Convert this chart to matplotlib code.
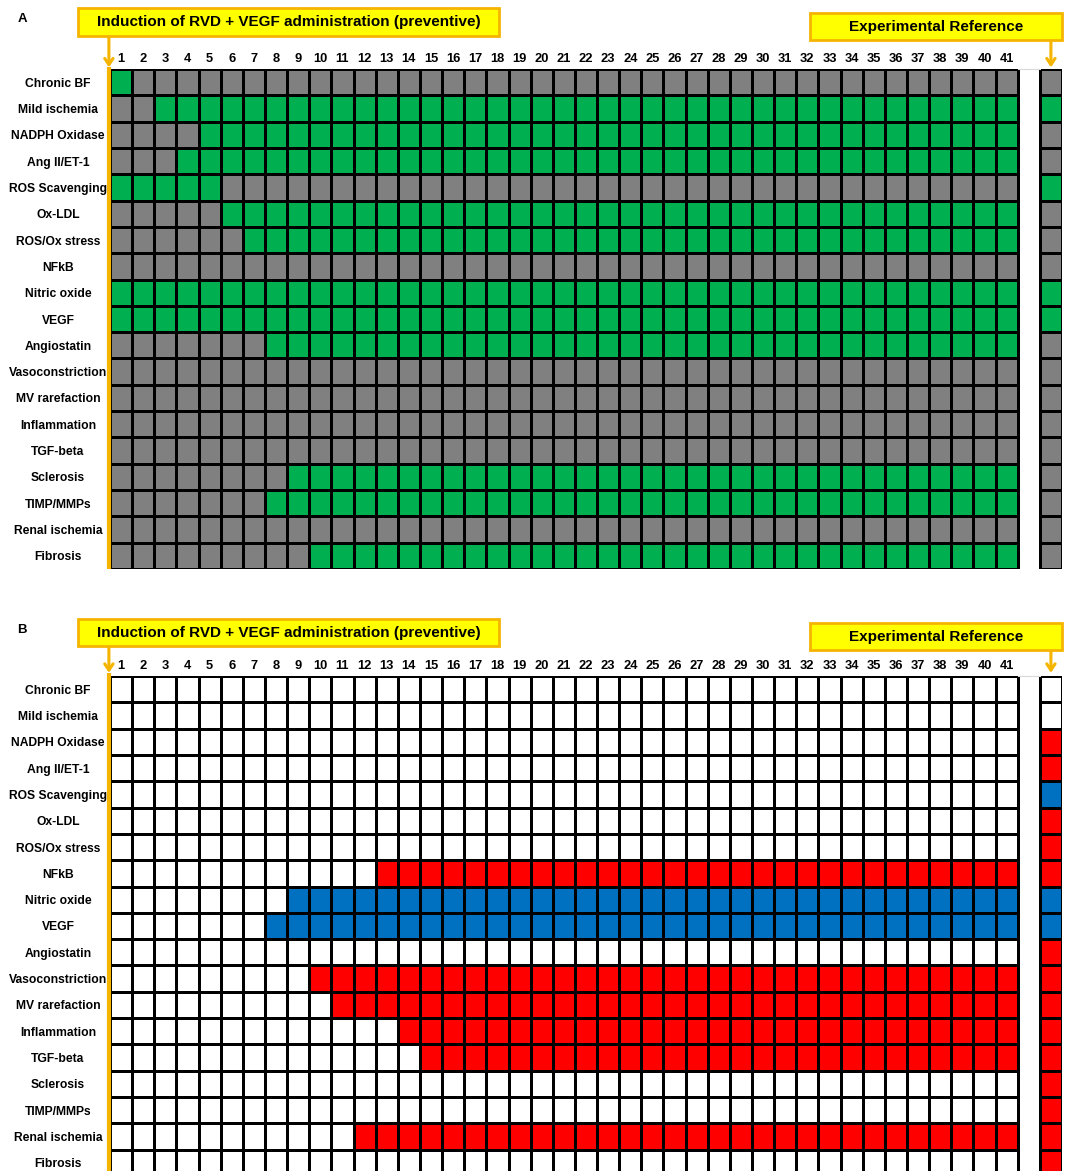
import numpy as np
import matplotlib.pyplot as plt
from matplotlib.colors import ListedColormap
from matplotlib.patches import Rectangle

plt.rcParams['font.family'] = ['Liberation Sans', 'DejaVu Sans']
plt.rcParams['font.weight'] = 'bold'

# model parameters (rows) and simulation steps (columns)
rows = ["Chronic BF", "Mild ischemia", "NADPH Oxidase", "Ang II/ET-1", "ROS Scavenging",
        "Ox-LDL", "ROS/Ox stress", "NFkB", "Nitric oxide", "VEGF", "Angiostatin",
        "Vasoconstriction", "MV rarefaction", "Inflammation", "TGF-beta", "Sclerosis",
        "TIMP/MMPs", "Renal ischemia", "Fibrosis"]
steps = list(range(1, 42))

# panel A: first and last step (1-based) where the node is active, 0 = never
a_active_from = [1, 3, 5, 4, 1, 6, 7, 0, 1, 1, 8, 0, 0, 0, 0, 9, 8, 0, 10]
a_active_to = [1, 41, 41, 41, 5, 41, 41, 0, 41, 41, 41, 0, 0, 0, 0, 41, 41, 0, 41]
a_reference = [0, 1, 0, 0, 1, 0, 0, 0, 1, 1, 0, 0, 0, 0, 0, 0, 0, 0, 0]

# panel B: step where the node changes and the direction of change
b_change_from = [0, 0, 0, 0, 0, 0, 0, 13, 9, 8, 0, 10, 11, 14, 15, 0, 0, 12, 0]
b_change = ["", "", "", "", "", "", "", "up", "down", "down", "", "up", "up", "up", "up",
            "", "", "up", ""]
b_reference = ["", "", "up", "up", "down", "up", "up", "up", "down", "down", "up", "up",
               "up", "up", "up", "up", "up", "up", "up"]

left_title = "Induction of RVD + VEGF administration (preventive)"
right_title = "Experimental Reference"

# colour codes: 0 white, 1 gray (inactive), 2 green (active), 3 red (up), 4 blue (down)
cmap = ListedColormap(["#FFFFFF", "#808080", "#00B050", "#FF0000", "#0070C0"])
change_code = {"": 0, "up": 3, "down": 4}
orange = "#F5B400"
yellow = "#FFFF00"

n_rows = len(rows)
n_steps = len(steps)

grid_a = np.ones((n_rows, n_steps))
for i in range(n_rows):
    if a_active_from[i]:
        grid_a[i, a_active_from[i] - 1:a_active_to[i]] = 2
ref_a = np.array([2 if r else 1 for r in a_reference])

grid_b = np.zeros((n_rows, n_steps))
for i in range(n_rows):
    if b_change_from[i]:
        grid_b[i, b_change_from[i] - 1:] = change_code[b_change[i]]
ref_b = np.array([change_code[r] for r in b_reference])

W, H = 1068, 1171
fig = plt.figure(figsize=(W / 100, H / 100), dpi=100)

cw = 952 / 43
rh = 500 / 19


def draw_panel(top_px, grid, ref, letter, letter_y, lbox, rbox, tip_l, tip_r):
    ax = fig.add_axes([110 / W, (H - top_px - 500) / H, 952 / W, 500 / H])
    xe = np.arange(n_steps + 1)
    ye = np.arange(n_rows + 1)
    ax.pcolormesh(xe, ye, grid, cmap=cmap, vmin=-0.5, vmax=4.5,
                  edgecolors="black", linewidth=0.9)
    ax.pcolormesh([n_steps + 1, n_steps + 2], ye, ref[:, None], cmap=cmap,
                  vmin=-0.5, vmax=4.5, edgecolors="black", linewidth=0.9)
    ax.plot([n_steps, n_steps + 1], [0, 0], color="#d9d9d9", lw=0.8, clip_on=False)
    ax.set_xlim(0, n_steps + 2)
    ax.set_ylim(n_rows, 0)
    for s in ax.spines.values():
        s.set_visible(False)

    ax.set_xticks(np.arange(n_steps) + 0.5)
    ax.set_xticklabels([str(s) for s in steps], fontsize=9.3, fontweight="bold")
    ax.xaxis.tick_top()
    ax.tick_params(axis="x", length=0, pad=3)
    ax.set_yticks(np.arange(n_rows) + 0.5)
    ax.set_yticklabels(rows, fontsize=8.7, fontweight="bold", ha="center")
    ax.tick_params(axis="y", length=0, pad=37.4)

    # header boxes
    for (x0, x1, y0, y1), txt in [(lbox, left_title), (rbox, right_title)]:
        ax.add_patch(Rectangle((x0, y0), x1 - x0, y1 - y0, facecolor=yellow,
                               edgecolor=orange, lw=2, clip_on=False, zorder=5))
        ax.text((x0 + x1) / 2, (y0 + y1) / 2, txt, ha="center", va="center",
                fontsize=11, fontweight="bold", zorder=6)

    # arrows from the boxes down to the grid
    xl = -0.05
    ax.annotate("", xy=(xl, tip_l), xytext=(xl, lbox[3]),
                arrowprops=dict(arrowstyle="->,head_length=0.45,head_width=0.3",
                                color=orange, lw=2.2, shrinkA=0, shrinkB=0),
                annotation_clip=False)
    ax.plot([xl, xl], [tip_l, n_rows], color=orange, lw=3, clip_on=False,
            solid_capstyle="butt", zorder=4)
    xr = n_steps + 1.5
    ax.annotate("", xy=(xr, tip_r), xytext=(xr, rbox[3]),
                arrowprops=dict(arrowstyle="->,head_length=0.45,head_width=0.3",
                                color=orange, lw=2.2, shrinkA=0, shrinkB=0),
                annotation_clip=False)

    fig.text(22 / W, 1 - letter_y / H, letter, ha="center", va="center",
             fontsize=9.5, fontweight="bold")
    return ax


draw_panel(69, grid_a, ref_a, "A", 19,
           ((78 - 110) / cw, (499 - 110) / cw, (8 - 69) / rh, (36 - 69) / rh),
           ((810 - 110) / cw, (1062 - 110) / cw, (13 - 69) / rh, (40 - 69) / rh),
           -0.06, -0.06)
draw_panel(676, grid_b, ref_b, "B", 630,
           ((78 - 110) / cw, (499 - 110) / cw, (619 - 676) / rh, (646 - 676) / rh),
           ((810 - 110) / cw, (1062 - 110) / cw, (623 - 676) / rh, (650 - 676) / rh),
           -0.12, -0.12)

fig.savefig("out.png", dpi=100)
